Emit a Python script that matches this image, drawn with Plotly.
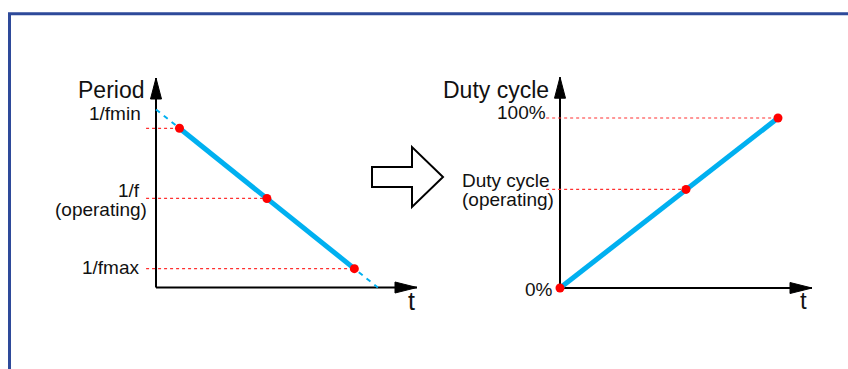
import plotly.graph_objects as go

W, H = 848, 369

# ---- Left panel: period shrinking over time ----
t_period = [0.9, 4.25, 7.6]
period = [7.6, 4.25, 0.9]
t_period_ext = [0.0, 8.5]          # same line carried to both axes
period_ext = [8.5, 0.0]
period_title = "Period"
period_labels = ["1/fmin", ["1/f", "(operating)"], "1/fmax"]

# ---- Right panel: duty cycle growing over time ----
t_duty = [0.0, 5.0, 8.65]
duty = [0, 58, 100]
duty_title = "Duty cycle"
duty_labels = ["0%", ["Duty cycle", "(operating)"], "100%"]

T_MAX = 10
PERIOD_MAX = 10
DUTY_MAX = 124

BLUE = "#00B0F0"
RED = "#FF0000"
GUIDE = "#FF3030"
INK = "#111111"
FRAME = "#2E4A9A"
FONT = "Liberation Sans, Arial, sans-serif"


def x_domain(origin_px, px_per_unit, lo, hi):
    return [(origin_px + lo * px_per_unit) / W, (origin_px + hi * px_per_unit) / W]


def y_domain(origin_px, px_per_unit, lo, hi):
    return [1 - (origin_px - lo * px_per_unit) / H, 1 - (origin_px - hi * px_per_unit) / H]


LX_RANGE, LY_RANGE = [-0.8, 10.2], [-0.5, 10.2]
RX_RANGE, RY_RANGE = [-0.8, 10.2], [-6, 127]

fig = go.Figure()

# dotted guides from the value axis to each operating point
for t, p in zip(t_period, period):
    fig.add_trace(go.Scatter(x=[-0.38, t], y=[p, p], mode="lines", xaxis="x", yaxis="y",
                             line=dict(color=GUIDE, width=1.2, dash="3px,3px"), hoverinfo="skip"))
for t, d in zip(t_duty[1:], duty[1:]):
    fig.add_trace(go.Scatter(x=[-0.55, t], y=[d, d], mode="lines", xaxis="x2", yaxis="y2",
                             line=dict(color=GUIDE, width=1.2, dash="3px,3px"), hoverinfo="skip"))

# dashed extension of the period line
fig.add_trace(go.Scatter(x=t_period_ext, y=period_ext, mode="lines", xaxis="x", yaxis="y",
                         line=dict(color=BLUE, width=2, dash="5px,5px"), hoverinfo="skip"))

# solid operating range
fig.add_trace(go.Scatter(x=[t_period[0], t_period[-1]], y=[period[0], period[-1]], mode="lines",
                         xaxis="x", yaxis="y", line=dict(color=BLUE, width=5), hoverinfo="skip"))
fig.add_trace(go.Scatter(x=[t_duty[0], t_duty[-1]], y=[duty[0], duty[-1]], mode="lines",
                         xaxis="x2", yaxis="y2", line=dict(color=BLUE, width=5), hoverinfo="skip"))

# operating points
fig.add_trace(go.Scatter(x=t_period, y=period, mode="markers", xaxis="x", yaxis="y", cliponaxis=False,
                         marker=dict(color=RED, size=9), hoverinfo="skip"))
fig.add_trace(go.Scatter(x=t_duty, y=duty, mode="markers", xaxis="x2", yaxis="y2", cliponaxis=False,
                         marker=dict(color=RED, size=9), hoverinfo="skip"))

shapes = []


def axis_arrows(xr, yr, x_end, y_end):
    line = dict(color="black", width=2)
    shapes.append(dict(type="line", xref=xr, yref=yr, x0=0, y0=0, x1=0, y1=y_end,
                       line=line, layer="below"))
    shapes.append(dict(type="line", xref=xr, yref=yr, x0=0, y0=0, x1=x_end, y1=0,
                       line=line, layer="below"))
    # arrowheads, sized in pixels at the axis ends
    shapes.append(dict(type="path", xref=xr, yref=yr, xsizemode="pixel", ysizemode="pixel",
                       xanchor=0, yanchor=y_end, path="M -5.5,-21 L 5.5,-21 L 0,0 Z",
                       fillcolor="black", line=dict(color="black", width=1)))
    shapes.append(dict(type="path", xref=xr, yref=yr, xsizemode="pixel", ysizemode="pixel",
                       xanchor=x_end, yanchor=0, path="M -22,-5.5 L -22,5.5 L 0,0 Z",
                       fillcolor="black", line=dict(color="black", width=1)))


axis_arrows("x", "y", T_MAX, PERIOD_MAX)
axis_arrows("x2", "y2", T_MAX, DUTY_MAX)

# block arrow between the panels
shapes.append(dict(type="path", xref="paper", yref="paper", xsizemode="pixel", ysizemode="pixel",
                   xanchor=407 / W, yanchor=1 - 177 / H,
                   path="M -35,-10 L 5,-10 L 5,-30 L 36,0 L 5,30 L 5,10 L -35,10 Z",
                   fillcolor="white", line=dict(color="black", width=2)))

# outer frame
shapes.append(dict(type="rect", xref="paper", yref="paper",
                   x0=9.5 / W, x1=1.2, y0=-0.2, y1=1 - 13.7 / H,
                   line=dict(color=FRAME, width=3), fillcolor="rgba(0,0,0,0)"))

ann = []


def label(text, x, y, xr, yr, size=19, xanchor="right", yshift=0):
    ann.append(dict(text=text, x=x, y=y, xref=xr, yref=yr, showarrow=False,
                    xanchor=xanchor, yanchor="middle", yshift=yshift,
                    font=dict(family=FONT, size=size, color=INK)))


# left panel text
label(period_title, -0.38, 9.43, "x", "y", size=23)
label(period_labels[0], -0.5, period[0], "x", "y", yshift=15)
label(period_labels[1][0], -0.52, period[1], "x", "y", yshift=8)
label(period_labels[1][1], -0.27, period[1], "x", "y", yshift=-11.5)
label(period_labels[2], -0.52, period[2], "x", "y", yshift=1)
label("t", 9.77, 0, "x", "y", size=25, xanchor="center", yshift=-13)

# right panel text
label(duty_title, -0.36, 116.5, "x2", "y2", size=23)
label(duty_labels[2], -0.48, duty[2], "x2", "y2", yshift=5)
label(duty_labels[1][0], 460 / W, duty[1], "paper", "y2", xanchor="left", yshift=9)
label(duty_labels[1][1], 460 / W, duty[1], "paper", "y2", xanchor="left", yshift=-10)
label(duty_labels[0], -0.2, duty[0], "x2", "y2", yshift=-1)
label("t", 9.68, 0, "x2", "y2", size=24, xanchor="center", yshift=-12)

hidden = dict(visible=False, fixedrange=True)
fig.update_layout(
    width=W, height=H,
    margin=dict(l=0, r=0, t=0, b=0),
    paper_bgcolor="white", plot_bgcolor="rgba(0,0,0,0)",
    showlegend=False,
    xaxis=dict(hidden, range=LX_RANGE, domain=x_domain(156, 26.1, *LX_RANGE), anchor="y"),
    yaxis=dict(hidden, range=LY_RANGE, domain=y_domain(287.5, 20.95, *LY_RANGE), anchor="x"),
    xaxis2=dict(hidden, range=RX_RANGE, domain=x_domain(560, 25.2, *RX_RANGE), anchor="y2"),
    yaxis2=dict(hidden, range=RY_RANGE, domain=y_domain(288, 1.7, *RY_RANGE), anchor="x2"),
    shapes=shapes,
    annotations=ann,
)

fig.write_html("out.html", config={"displayModeBar": False})
